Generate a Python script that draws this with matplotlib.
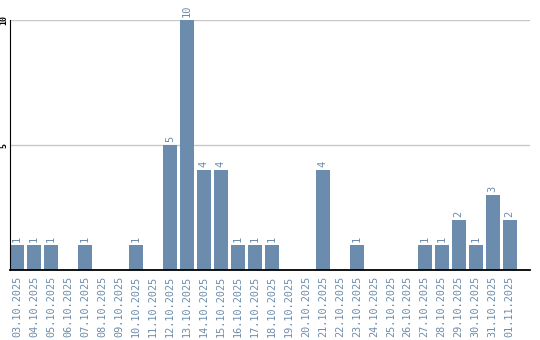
import numpy as np
import matplotlib
matplotlib.use("Agg")
import matplotlib.pyplot as plt

dates = ['03.10.2025', '04.10.2025', '05.10.2025', '06.10.2025', '07.10.2025',
         '08.10.2025', '09.10.2025', '10.10.2025', '11.10.2025', '12.10.2025',
         '13.10.2025', '14.10.2025', '15.10.2025', '16.10.2025', '17.10.2025',
         '18.10.2025', '19.10.2025', '20.10.2025', '21.10.2025', '22.10.2025',
         '23.10.2025', '24.10.2025', '25.10.2025', '26.10.2025', '27.10.2025',
         '28.10.2025', '29.10.2025', '30.10.2025', '31.10.2025', '01.11.2025']
counts = [1, 1, 1, 0, 1, 0, 0, 1, 0, 5,
          10, 4, 4, 1, 1, 1, 0, 0, 4, 0,
          1, 0, 0, 0, 1, 1, 2, 1, 3, 2]
yticks = [5, 10]

BAR = '#6b8cad'
FONT = 'DejaVu Sans Mono'

fig = plt.figure(figsize=(5.4, 3.4), dpi=100)
ax = fig.add_axes([10/540, 70/340, 520/540, 250/340])

x = np.arange(len(dates))
ax.bar(x, counts, width=0.82, color=BAR, zorder=2)

# value labels above non-empty bars
for xi, c in zip(x, counts):
    if c > 0:
        ax.text(xi, c + 0.12, str(c), rotation=90, ha='center', va='bottom',
                color=BAR, fontsize=7.5, family=FONT)

ax.set_xlim(-0.41, 30.2)
ax.set_ylim(0, 10)
ax.set_xticks(x)
ax.set_xticklabels(dates, rotation=90, color=BAR, fontsize=7.3, family=FONT)
ax.tick_params(axis='x', length=0, pad=4)
ax.set_yticks(yticks)
ax.set_yticklabels([str(t) for t in yticks], rotation=90, fontsize=6, family=FONT,
                   fontweight='bold', va='center', ha='right')
ax.tick_params(axis='y', length=0, pad=1.2)

ax.grid(axis='y', color='#c8c8c8', linewidth=1, zorder=0)
for s in ['top', 'right']:
    ax.spines[s].set_visible(False)
ax.spines['left'].set_color('black')
ax.spines['bottom'].set_color('black')
ax.spines['bottom'].set_linewidth(1.3)

fig.savefig('out.png', dpi=100)
